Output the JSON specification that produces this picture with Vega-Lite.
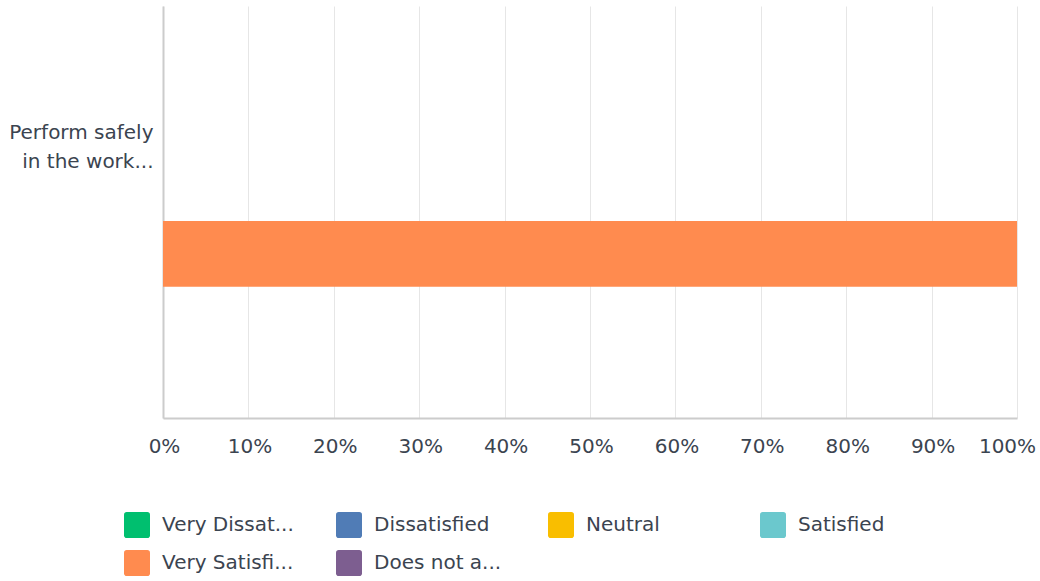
{
  "$schema": "https://vega.github.io/schema/vega-lite/v6.json",
  "autosize": {"type": "none"},
  "width": 854,
  "height": 412,
  "padding": {"left": 163, "top": 6, "right": 23, "bottom": 163},
  "background": "#ffffff",
  "config": {
    "view": {"stroke": null},
    "font": "DejaVu Sans",
    "axis": {"labelFont": "DejaVu Sans", "labelColor": "#3b4450", "labelFontSize": 20}
  },
  "data": {
    "values": [
      {"question": "Perform safely in the work...", "response": "Very Dissat...", "share": 0},
      {"question": "Perform safely in the work...", "response": "Dissatisfied", "share": 0},
      {"question": "Perform safely in the work...", "response": "Neutral", "share": 0},
      {"question": "Perform safely in the work...", "response": "Satisfied", "share": 0},
      {"question": "Perform safely in the work...", "response": "Very Satisfi...", "share": 1},
      {"question": "Perform safely in the work...", "response": "Does not a...", "share": 0}
    ]
  },
  "mark": {"type": "bar"},
  "encoding": {
    "y": {
      "field": "question",
      "type": "nominal",
      "scale": {"paddingInner": 0.619, "paddingOuter": 1, "align": 0.621},
      "axis": {
        "title": null,
        "ticks": false,
        "tickSize": 0,
        "domainColor": "#cccccc",
        "domainWidth": 2,
        "labelPadding": 10,
        "labelOffset": -121,
        "labelLineHeight": 29,
        "labelAlign": "right",
        "labelLimit": 0,
        "labelExpr": "['Perform safely', 'in the work...']"
      }
    },
    "x": {
      "field": "share",
      "type": "quantitative",
      "stack": "zero",
      "scale": {"domain": [0, 1], "nice": false},
      "axis": {
        "title": null,
        "format": ".0%",
        "values": [0, 0.1, 0.2, 0.3, 0.4, 0.5, 0.6, 0.7, 0.8, 0.9, 1],
        "ticks": false,
        "tickSize": 0,
        "labelPadding": 18,
        "labelOverlap": false,
        "labelFlush": false,
        "labelOffset": {"condition": {"test": "datum.value == 1", "value": -10}, "value": 1},
        "domainColor": "#cccccc",
        "domainWidth": 2,
        "grid": true,
        "gridColor": "#e6e6e6",
        "gridWidth": 1
      }
    },
    "color": {
      "field": "response",
      "type": "nominal",
      "scale": {
        "domain": ["Very Dissat...", "Dissatisfied", "Neutral", "Satisfied", "Very Satisfi...", "Does not a..."],
        "range": ["#00bf6f", "#507cb6", "#f9be00", "#6bc8cd", "#ff8b4f", "#7d5e90"]
      },
      "legend": {
        "title": null,
        "orient": "none",
        "legendX": -39,
        "legendY": 506,
        "direction": "horizontal",
        "columns": 4,
        "gridAlign": "all",
        "columnPadding": 42,
        "rowPadding": 12,
        "padding": 0,
        "symbolType": "M-0.8,-1H0.8A0.2,0.2 0 0 1 1,-0.8V0.8A0.2,0.2 0 0 1 0.8,1H-0.8A0.2,0.2 0 0 1 -1,0.8V-0.8A0.2,0.2 0 0 1 -0.8,-1Z",
        "symbolSize": 676,
        "symbolStrokeWidth": 0,
        "symbolOpacity": 1,
        "labelOffset": 12,
        "labelFont": "DejaVu Sans",
        "labelFontSize": 20,
        "labelColor": "#3b4450",
        "labelLimit": 0
      }
    },
    "order": {"field": "response", "sort": "ascending"}
  }
}
